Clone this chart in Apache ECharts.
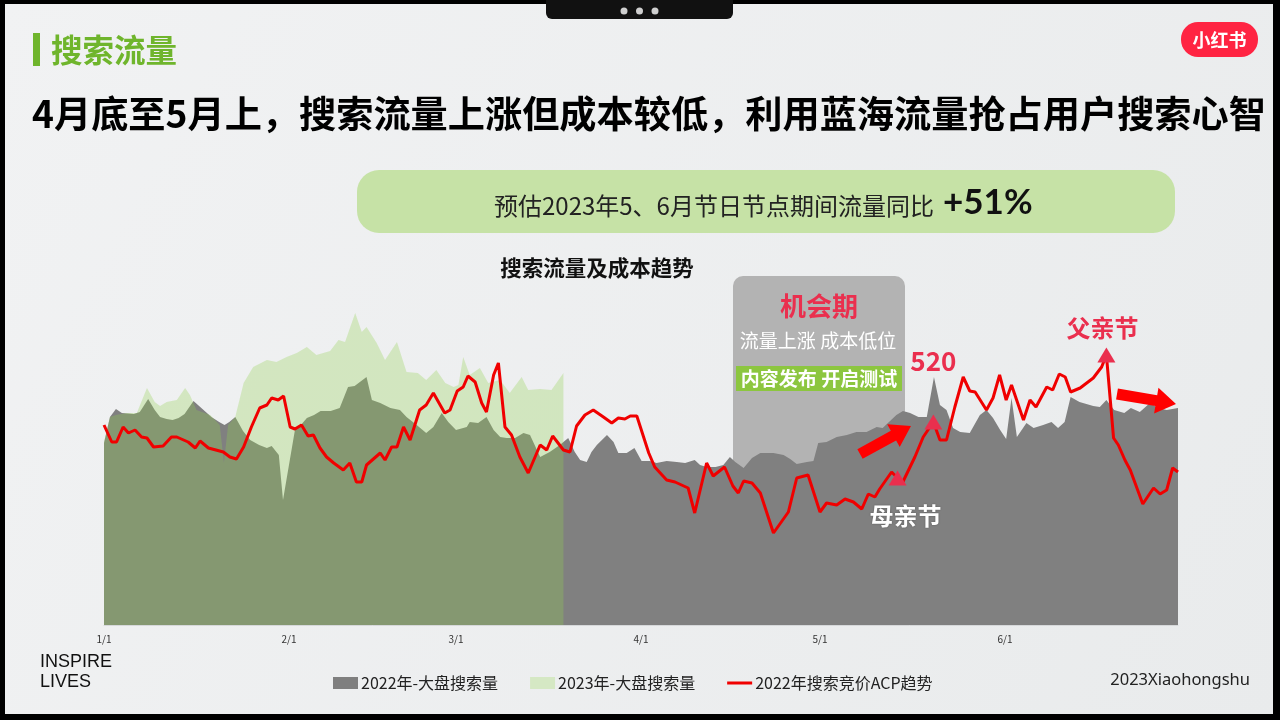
<!DOCTYPE html>
<html style="height: 100%">
    <head>
        <title>搜索流量及成本趋势</title>
        <script type="text/javascript" src="https://cdn.jsdelivr.net/npm/echarts@6.0.0/dist/echarts.min.js"></script>
    </head>
    <body style="height: 100%; margin: 0; background: #eff1f2">
        <div id="target" style="width: 1280px; height: 720px"></div>
<script>
// x values are day index from 1/1 (0) to 6/30 (180)
const monthTicks  = [0, 31, 59, 90, 120, 151];
const monthLabels = ['1/1', '2/1', '3/1', '4/1', '5/1', '6/1'];

// 2022 overall search volume (relative units)
const vol2022 = [
    [0,182],[1,208],[2,216],[3,212],[5,211],[6,213],[7.4,226],[8.5,215],[9.4,208],[10.5,206],
    [11.5,205],[12.5,207],[13.5,211],[15,224],[16.5,216],[18,208],[19.3,203],[20.2,200],[21,203],
    [22,208],[23.3,194],[24.5,185],[26,180],[27.3,177],[28.1,179],[29.3,170],[30,125],[31,160],
    [32,195],[33,200],[34,207],[35.2,210],[36.3,214],[38,214],[39.5,217],[40.9,238],[42,239],
    [44,248],[44.9,225],[46.3,222],[48,217],[49.6,215],[50.7,208],[52.4,200],[54,192],[55.2,198],
    [56.6,212],[57.7,203],[59,195],[60.8,198],[61.3,203],[62.7,202],[64.1,208],[65.3,195],
    [66.4,188],[67.5,187],[68.9,187],[70.3,192],[71.4,190],[73.1,168],[74.7,173],[76.4,180],
    [77.8,187],[78.9,173],[79.8,165],[80.9,163],[81.7,173],[82.6,180],[84.3,190],[85.4,183],
    [86.2,172],[87.6,172],[88.9,177],[90.1,164],[91.5,164],[92.6,162],[94.3,164],[96,163],
    [97.4,162],[99,165],[99.9,160],[101,158],[102.5,158],[103.8,160],[104.9,168],[105.8,163],
    [107.2,157],[108.6,167],[110,172],[112.2,172],[113.9,170],[115,166],[116.1,161],[117.8,163],
    [118.9,164],[119.7,182],[121.1,183],[122.8,188],[124.5,190],[126.1,193],[127.8,193],
    [129.5,198],[130.5,197],[132.8,210],[133.9,214],[135.1,212],[136.5,208],[137.9,208],
    [139.1,248],[140.1,220],[141.2,215],[142.3,197],[143.5,193],[145.1,192],[146.8,210],
    [147.9,215],[149,207],[150.2,195],[151.2,186],[152.1,227],[153,188],[154.6,202],[155.8,197],
    [157.4,200],[158.8,203],[159.9,197],[161,203],[162,228],[163.5,223],[165.8,219],[166.9,218],
    [168,225],[169.3,215],[171,212],[172.1,217],[173.6,213],[175.3,222],[176.7,217],[178.1,215],
    [180,217]
];

// 2023 overall search volume, data until 3/19
const vol2023 = [
    [0,183],[1,208],[2,210],[3.8,212],[5.5,212],[7.2,237],[8.5,223],[9.4,219],[10.5,223],
    [12.2,225],[13.6,237],[14.4,230],[15.5,215],[17.8,210],[19.4,200],[20.1,162],[20.8,200],
    [22,208],[23.4,242],[25,258],[27.3,265],[28.9,263],[30.6,268],[32.3,272],[34,278],[35.6,270],
    [37.9,274],[39.3,285],[40.4,283],[42.1,312],[43.2,293],[44,298],[45.7,282],[47.1,265],
    [49.1,283],[50.7,253],[52.6,252],[54,245],[55.7,255],[57.2,242],[58.6,238],[59.4,240],
    [60.2,268],[61.3,250],[63,257],[64.4,242],[66.4,245],[68,232],[70,248],[71.1,235],
    [73.1,236],[75,235],[77,252]
];

// 2022 search bidding ACP trend
const acp2022 = [
    [0,200],[1.3,183],[2.1,183],[3.2,198],[4.1,192],[5.2,195],[6.3,188],[7.2,187],[8.3,178],
    [9.9,179],[11.3,188],[12.2,188],[14.1,183],[15.3,177],[16.1,184],[17.5,177],[20,173],
    [21.1,168],[22.2,166],[23.4,178],[24.7,198],[26.1,217],[27.3,220],[28.1,227],[29.2,225],
    [30.1,229],[31.2,198],[32,196],[33.1,200],[34.2,189],[35.1,190],[36.2,177],[37.3,168],
    [38.5,162],[40.1,155],[41.2,162],[42.3,143],[43.2,143],[44,160],[46.3,172],[47.1,165],
    [48.2,178],[49.1,178],[50.2,198],[51.3,185],[52.9,215],[54,220],[55.2,232],[57.1,212],
    [58,215],[59.2,234],[60.2,238],[61,249],[62.2,243],[63.3,222],[64.1,213],[65.3,250],
    [66.1,262],[67.2,198],[68.3,190],[69.7,168],[71.1,152],[73.1,180],[74.2,175],[75.2,189],
    [77,175],[78.1,173],[79.2,199],[80.6,210],[82,215],[83.7,208],[85.1,202],[86.2,207],
    [87.3,206],[88.2,209],[89.3,209],[91.3,172],[92.3,158],[94.3,145],[95.7,143],[97.9,137],
    [99,112],[101,162],[102.1,149],[104,158],[105.4,139],[106.3,132],[107.2,144],[108.6,142],
    [110,132],[112.2,92],[114.7,113],[116.1,147],[118,150],[120,113],[121.1,122],[122.8,120],
    [124.2,126],[125.6,123],[127,116],[128.1,131],[129.2,128],[130,136],[132,153],[133,147],
    [133.8,142],[135.9,168],[137.3,188],[139,203],[140.1,185],[141.2,185],[142.6,218],[144,248],
    [145.1,234],[146,233],[147.9,215],[149,227],[150.1,250],[151.2,225],[152.1,240],[154.1,205],
    [155.2,225],[156.2,218],[158,238],[159,235],[160.1,251],[161.1,248],[162,233],[163.6,237],
    [165.8,247],[167.2,258],[168,270],[169.2,187],[170,180],[171.1,165],[172,155],[174.1,121],
    [175.9,137],[177,131],[178.1,135],[179.1,157],[180,153]
];

// holiday markers on the ACP line
const events = [
    { name: '母亲节', day: 133 },
    { name: '520',   day: 139 },
    { name: '父亲节', day: 168 },
];

const CJK = '"Noto Sans CJK SC", "Noto Sans", sans-serif';
const RED = '#ea2f4e';
const GREEN = '#6fb52c';

let chart = echarts.init(document.getElementById('target'));

// label looks per marker
let eventLabel = {
    '母亲节': { position: 'bottom', offset: [8, 13], color: '#ffffff', fontSize: 24, textShadowColor: 'rgba(0,0,0,0.35)', textShadowBlur: 2 },
    '520':   { position: 'top', offset: [0, -35], color: RED, fontSize: 26 },
    '父亲节': { position: 'top', offset: [-4, -3], color: RED, fontSize: 24 },
};

// markers sit on the ACP values of those days
let markData = events.map(e => {
    let pt = acp2022.find(p => p[0] === e.day);
    return {
        name: e.name,
        value: [pt[0], pt[1]],
        label: Object.assign({ show: true, formatter: e.name, fontWeight: 'bold', fontFamily: CJK, opacity: 1 }, eventLabel[e.name]),
    };
});

// block arrow polygon from tail to tip
let Arrow = (x1, y1, x2, y2, sw, hw, hl) => {
    let dx = x2 - x1, dy = y2 - y1, len = Math.hypot(dx, dy);
    let ux = dx / len, uy = dy / len, nx = -uy, ny = ux;
    let bx = x2 - ux * hl, by = y2 - uy * hl;
    return {
        type: 'polygon', z: 10,
        shape: { points: [
            [x1 + nx * sw / 2, y1 + ny * sw / 2], [bx + nx * sw / 2, by + ny * sw / 2],
            [bx + nx * hw / 2, by + ny * hw / 2], [x2, y2],
            [bx - nx * hw / 2, by - ny * hw / 2], [bx - nx * sw / 2, by - ny * sw / 2],
            [x1 - nx * sw / 2, y1 - ny * sw / 2],
        ] },
        style: { fill: '#ff0000' },
    };
};

let Text = (text, x, y, size, color, weight, align, family) => ({
    type: 'text', z: 5,
    style: {
        text: text, x: x, y: y, fill: color,
        fontSize: size, fontWeight: weight || 'normal', fontFamily: family || CJK,
        textAlign: align || 'left', textVerticalAlign: 'middle',
    },
});

let option = {
    animation: false,
    backgroundColor: new echarts.graphic.LinearGradient(0, 0, 1, 1, [
        { offset: 0, color: '#f1f2f3' },
        { offset: 1, color: '#e9ebec' },
    ]),
    grid: { left: 104, right: 102, top: 225, bottom: 95 },
    xAxis: {
        type: 'value', min: 0, max: 180,
        axisLine: { show: true, lineStyle: { color: '#d6d8da' } },
        axisTick: { show: false },
        splitLine: { show: false },
        axisLabel: {
            customValues: monthTicks,
            formatter: v => monthLabels[monthTicks.indexOf(v)] || '',
            color: '#333', fontSize: 10, margin: 9, fontFamily: CJK,
        },
    },
    yAxis: { type: 'value', min: 0, max: 400, show: false },
    legend: {
        left: 328, top: 670,
        itemWidth: 25, itemHeight: 12, itemGap: 32,
        textStyle: { fontSize: 16, color: '#222', fontFamily: CJK, padding: [0, 0, 0, -2] },
        data: [
            { name: '2022年-大盘搜索量', icon: 'rect' },
            { name: '2023年-大盘搜索量', icon: 'rect' },
            { name: '2022年搜索竞价ACP趋势', icon: 'path://M0,0 L25,0 L25,3 L0,3 Z', itemStyle: { color: '#f00000' } },
        ],
    },
    series: [
        {
            name: '2022年-大盘搜索量', type: 'line', data: vol2022,
            symbol: 'none', color: '#7f7f7f',
            lineStyle: { opacity: 0 },
            areaStyle: { color: '#808080', opacity: 1 },
        },
        {
            name: '2023年-大盘搜索量', type: 'line', data: vol2023,
            symbol: 'none', color: '#d5e8c4',
            lineStyle: { opacity: 0 },
            areaStyle: { color: 'rgba(146,208,80,0.3)', opacity: 1 },
        },
        {
            name: '2022年搜索竞价ACP趋势', type: 'line', data: acp2022, z: 4,
            symbol: 'none', color: '#f00000',
            lineStyle: { width: 3, color: '#f00000' },
        },
        {
            name: 'holiday', type: 'scatter', data: markData, z: 6,
            symbol: 'triangle', symbolSize: [18, 15],
            itemStyle: { color: RED, opacity: 1 },
            emphasis: { disabled: true },
        },
    ],
    graphic: [
        // header
        { type: 'rect', z: 5, shape: { x: 33, y: 33, width: 7, height: 33 }, style: { fill: GREEN } },
        Text('搜索流量', 51, 50, 31.5, GREEN, 'bold'),
        Text('4月底至5月上，搜索流量上涨但成本较低，利用蓝海流量抢占用户搜索心智', 32, 114, 37.2, '#000', 'bold'),

        // logo
        { type: 'rect', z: 5, shape: { x: 1181, y: 22, width: 77, height: 35, r: 17 }, style: { fill: '#ff2442' } },
        Text('小红书', 1219.5, 40, 18, '#fff', 'bold', 'center'),

        // banner
        { type: 'rect', z: 1, shape: { x: 357, y: 170, width: 818, height: 63, r: 22 }, style: { fill: '#c6e2a6' } },
        Text('预估2023年5、6月节日节点期间流量同比', 494, 206, 24, '#222'),
        Text('+51%', 943, 203, 35, '#111', 'bold', 'left', 'Lato, "Noto Sans", sans-serif'),

        Text('搜索流量及成本趋势', 597, 268, 21.5, '#111', 'bold', 'center'),

        // opportunity window box, behind the areas
        { type: 'rect', z: 0, shape: { x: 733, y: 276, width: 172, height: 330, r: 10 }, style: { fill: '#b3b3b3' } },
        Text('机会期', 819, 306, 26, RED, 'bold', 'center'),
        Text('流量上涨 成本低位', 818, 341, 19, '#fff', 'normal', 'center'),
        { type: 'rect', z: 1, shape: { x: 736, y: 366, width: 166, height: 25 }, style: { fill: '#8cc63f' } },
        Text('内容发布 开启测试', 819, 378.5, 19, '#fff', 'bold', 'center'),

        // trend arrows
        Arrow(860, 454, 911, 426, 11, 26, 20),
        Arrow(1117, 394, 1176, 404, 11, 26, 20),

        // footer
        Text('INSPIRE', 40, 662, 18, '#111', 'normal', 'left', '"Liberation Sans", Arial, sans-serif'),
        Text('LIVES', 40, 682, 18, '#111', 'normal', 'left', '"Liberation Sans", Arial, sans-serif'),
        Text('2023Xiaohongshu', 1250, 680, 16.5, '#222', 'normal', 'right', '"Noto Sans", sans-serif'),

        // screen frame
        { type: 'rect', z: 20, shape: { x: 0, y: 0, width: 1280, height: 4 }, style: { fill: '#000' } },
        { type: 'rect', z: 20, shape: { x: 0, y: 0, width: 5, height: 720 }, style: { fill: '#000' } },
        { type: 'rect', z: 20, shape: { x: 1273, y: 0, width: 7, height: 720 }, style: { fill: '#000' } },
        { type: 'rect', z: 20, shape: { x: 0, y: 714, width: 1280, height: 6 }, style: { fill: '#000' } },
        { type: 'rect', z: 20, shape: { x: 546, y: 0, width: 187, height: 19, r: [0, 0, 6, 6] }, style: { fill: '#111' } },
        { type: 'circle', z: 21, shape: { cx: 624, cy: 11, r: 3.5 }, style: { fill: '#cfcfcf' } },
        { type: 'circle', z: 21, shape: { cx: 639.5, cy: 11, r: 3.5 }, style: { fill: '#cfcfcf' } },
        { type: 'circle', z: 21, shape: { cx: 655, cy: 11, r: 3.5 }, style: { fill: '#cfcfcf' } },
    ],
};

chart.setOption(option);
</script>
    </body>
</html>
